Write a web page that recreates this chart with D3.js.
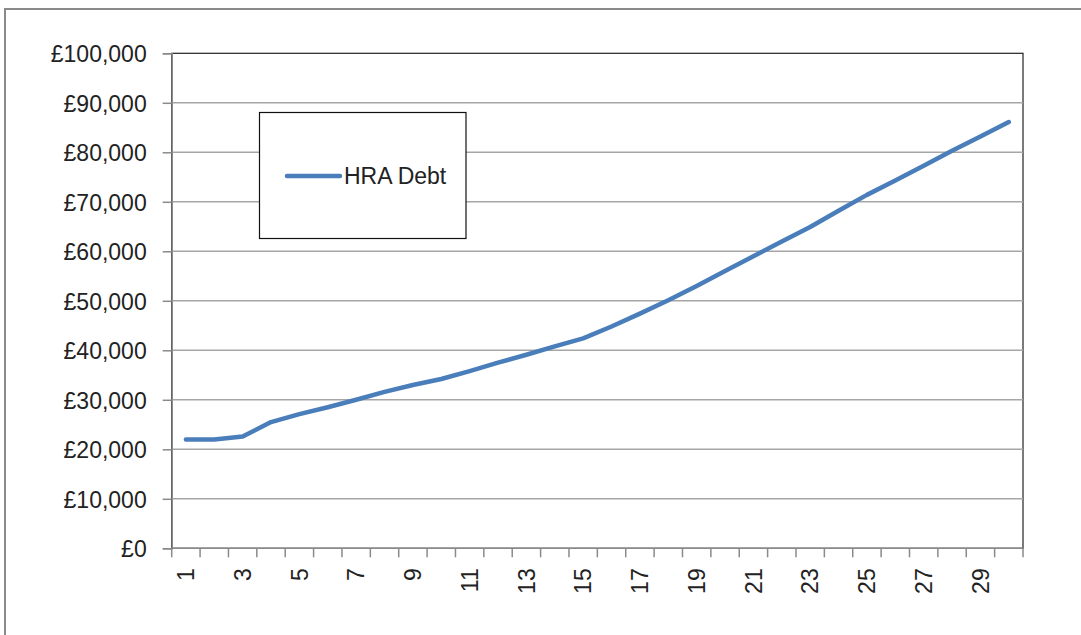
<!DOCTYPE html>
<html>
<head>
<meta charset="utf-8">
<script src="https://cdn.jsdelivr.net/npm/d3@7"></script>
<style>
  html, body { margin: 0; padding: 0; background: #fff; }
  svg { display: block; }
  text { font-family: "Liberation Sans", Arial, sans-serif; fill: #222; }
</style>
</head>
<body>
<svg id="chart" width="1081" height="635"></svg>
<script>
// ---- data ----
const categories = d3.range(1, 31).map(String);
const seriesName = "HRA Debt";
const hraDebt = [22000, 22000, 22600, 25500, 27100, 28500, 30000, 31600, 33000, 34200,
                 35800, 37500, 39100, 40800, 42400, 44800, 47400, 50100, 53000, 56000,
                 59000, 62000, 64900, 68200, 71400, 74300, 77300, 80300, 83200, 86100];
const yTicks = [0, 10000, 20000, 30000, 40000, 50000, 60000, 70000, 80000, 90000, 100000];
const xTickLabels = categories.filter((d, i) => i % 2 === 0);

// ---- layout ----
const svg = d3.select("#chart");
const plot = { left: 171.7, right: 1023, top: 53.3, bottom: 548.3 };
const fontSize = 23;

// outer chart frame
svg.append("rect")
  .attr("x", 5).attr("y", 9)
  .attr("width", 1100).attr("height", 700)
  .attr("fill", "#fff").attr("stroke", "#8a8a8a").attr("stroke-width", 2);

const x = d3.scaleBand().domain(categories).range([plot.left, plot.right]).padding(0);
const y = d3.scaleLinear().domain([0, 100000]).range([plot.bottom, plot.top]);

// plot area border (top/right dark)
svg.append("rect")
  .attr("x", plot.left).attr("y", plot.top)
  .attr("width", plot.right - plot.left).attr("height", plot.bottom - plot.top)
  .attr("fill", "none").attr("stroke", "#222").attr("stroke-width", 1.2);

// gridlines
svg.append("g")
  .selectAll("line")
  .data(yTicks.filter(d => d > 0 && d < 100000))
  .join("line")
  .attr("x1", plot.left).attr("x2", plot.right)
  .attr("y1", d => y(d)).attr("y2", d => y(d))
  .attr("stroke", "#a6a6a6").attr("stroke-width", 1.5);

// y axis
const fmt = d => "£" + d3.format(",")(d);
const yAxis = svg.append("g")
  .attr("transform", `translate(${plot.left},0)`)
  .call(d3.axisLeft(y).tickValues(yTicks).tickFormat(fmt).tickSize(9).tickPadding(16));
yAxis.select(".domain").attr("stroke", "#8a8a8a").attr("stroke-width", 1.5);
yAxis.selectAll(".tick line").attr("stroke", "#8a8a8a").attr("stroke-width", 1.5);
yAxis.selectAll(".tick text")
  .attr("font-size", fontSize).attr("fill", "#222")
  .style("font-family", "'Liberation Sans', Arial, sans-serif")
  .attr("dy", "0.36em");

// x axis: ticks at band boundaries
const xAxisG = svg.append("g").attr("transform", `translate(0,${plot.bottom})`);
xAxisG.append("line")
  .attr("x1", plot.left).attr("x2", plot.right)
  .attr("y1", 0).attr("y2", 0)
  .attr("stroke", "#8a8a8a").attr("stroke-width", 1.5);
const boundaries = categories.map(c => x(c)).concat([x(categories[categories.length - 1]) + x.bandwidth()]);
xAxisG.selectAll("line.tk")
  .data(boundaries)
  .join("line").attr("class", "tk")
  .attr("x1", d => d).attr("x2", d => d)
  .attr("y1", 0).attr("y2", 9)
  .attr("stroke", "#8a8a8a").attr("stroke-width", 1.5);
xAxisG.selectAll("text")
  .data(xTickLabels)
  .join("text")
  .attr("transform", d => `translate(${x(d) + x.bandwidth() / 2},20) rotate(-90)`)
  .attr("text-anchor", "end")
  .attr("dy", "0.36em")
  .attr("font-size", fontSize)
  .text(d => d);

// line
const line = d3.line()
  .x((d, i) => x(categories[i]) + x.bandwidth() / 2)
  .y(d => y(d));
svg.append("path")
  .datum(hraDebt)
  .attr("d", line)
  .attr("fill", "none")
  .attr("stroke", "#4a7ebb")
  .attr("stroke-width", 4.5)
  .attr("stroke-linecap", "round")
  .attr("stroke-linejoin", "round");

// legend
const lg = svg.append("g");
lg.append("rect")
  .attr("x", 259.5).attr("y", 112.5).attr("width", 206.5).attr("height", 126)
  .attr("fill", "#fff").attr("stroke", "#111").attr("stroke-width", 1.2);
lg.append("line")
  .attr("x1", 287).attr("x2", 340).attr("y1", 176).attr("y2", 176)
  .attr("stroke", "#4a7ebb").attr("stroke-width", 4.5).attr("stroke-linecap", "round");
lg.append("text")
  .attr("x", 344).attr("y", 176).attr("dy", "0.36em")
  .attr("font-size", fontSize)
  .text(seriesName);
</script>
</body>
</html>
